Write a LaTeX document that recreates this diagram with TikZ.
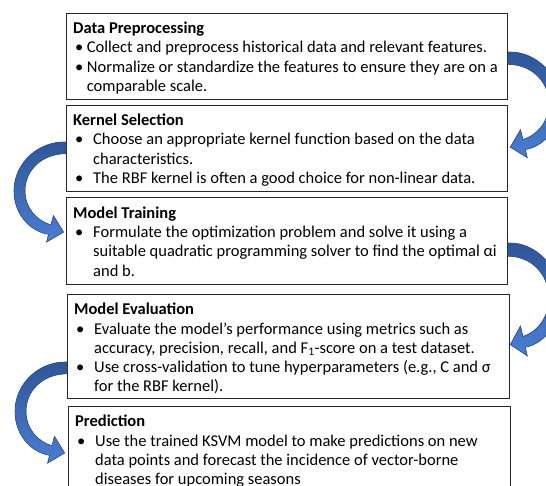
\documentclass[tikz,border=0pt]{standalone}
\usepackage{fontspec}
\setmainfont{Carlito}
\usetikzlibrary{calc}
\definecolor{arrowdark}{HTML}{2F5597}
\definecolor{arrowlight}{HTML}{4A7DD2}
\definecolor{arrowline}{HTML}{2F528F}
\tikzset{
  box/.style={draw=black!85, line width=0.9pt, fill=white, anchor=north west, inner sep=0pt},
  txt/.style={anchor=north west, inner sep=0pt, align=left, text=black,
              font=\fontsize{16.5}{19.3}\selectfont},
  blockarrow/.style={top color=arrowdark, bottom color=arrowlight, draw=arrowline, line width=0.6pt},
  pics/bentarrow/.style={code={
    \filldraw[blockarrow] (0,0) .. controls (28,-1) and (52,22) .. (52,50)
      .. controls (52,75) and (35,92) .. (17.4,94.7)
      -- (19.4,102.6) -- (2.4,92.4) -- (12.6,75.4) -- (15,85)
      .. controls (29,81) and (41,68) .. (41,50)
      .. controls (41,29) and (24,12) .. (0,12) -- cycle;
  }}
}
\newcommand{\bul}[1]{\makebox[#1][l]{\hspace{2pt}•}}
\begin{document}
\begin{tikzpicture}[x=1pt,y=-1pt]
\useasboundingbox (0,0) rectangle (546,486);
\clip (0,0) rectangle (546,486);
\fill[white] (0,0) rectangle (546,486);

\node[box, minimum width=441pt, minimum height=86pt] (b1) at (66,13) {};
\node[box, minimum width=441pt, minimum height=86pt] (b2) at (66,105) {};
\node[box, minimum width=441pt, minimum height=86.5pt] (b3) at (66,197.5) {};
\node[box, minimum width=442pt, minimum height=104pt] (b4) at (67,294) {};
\node[box, minimum width=442pt, minimum height=110pt] (b5) at (68,406) {};

\node[txt] (t1) at ($(b1.north west)+(7,8.5)$) {\rule{0pt}{12pt}\textbf{Data Preprocessing}\\
\bul{13.7pt}Collect and preprocess historical data and relevant features.\\
\bul{13.7pt}Normalize or standardize the features to ensure they are on a\\
\hspace*{13.7pt}comparable scale.};

\node[txt] (t2) at ($(b2.north west)+(7,8.5)$) {\rule{0pt}{12pt}\textbf{Kernel Selection}\\
\bul{20pt}Choose an appropriate kernel function based on the data\\
\hspace*{20pt}characteristics.\\
\bul{20pt}The RBF kernel is often a good choice for non-linear data.};

\node[txt] (t3) at ($(b3.north west)+(7,8.5)$) {\rule{0pt}{12pt}\textbf{Model Training}\\
\bul{20pt}Formulate the optimization problem and solve it using a\\
\hspace*{20pt}suitable quadratic programming solver to find the optimal αi\\
\hspace*{20pt}and b.};

\node[txt] (t4) at ($(b4.north west)+(7,8.5)$) {\rule{0pt}{12pt}\textbf{Model Evaluation}\\
\bul{20pt}Evaluate the model's performance using metrics such as\\
\hspace*{20pt}accuracy, precision, recall, and F\textsubscript{1}-score on a test dataset.\\
\bul{20pt}Use cross-validation to tune hyperparameters (e.g., C and σ\\
\hspace*{20pt}for the RBF kernel).};

\node[txt] (t5) at ($(b5.north west)+(7,8.5)$) {\rule{0pt}{12pt}\textbf{Prediction}\\
\bul{20pt}Use the trained KSVM model to make predictions on new\\
\hspace*{20pt}data points and forecast the incidence of vector-borne\\
\hspace*{20pt}diseases for upcoming seasons};

\pic (ra1) [yscale=1.03] at ($(b1.north east)+(0,39)$) {bentarrow};
\pic (la1) [xscale=-1, yscale=0.975] at ($(b2.north west)+(0,37)$) {bentarrow};
\pic (ra2) [yscale=1.10] at ($(b3.north east)+(0,45.5)$) {bentarrow};
\pic (la2) [xscale=-1, yscale=0.985] at ($(b4.north west)+(0,68)$) {bentarrow};
\end{tikzpicture}
\end{document}
